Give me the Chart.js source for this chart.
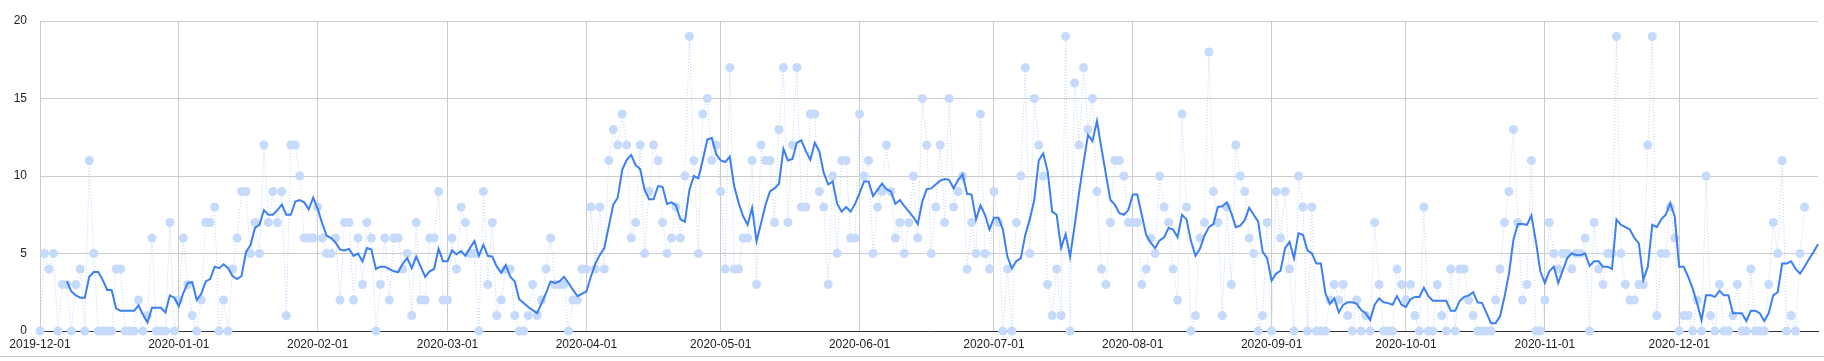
<!DOCTYPE html>
<html>
<head>
<meta charset="utf-8">
<script src="https://cdn.jsdelivr.net/npm/chart.js@4/dist/chart.umd.min.js"></script>
<style>
  html, body { margin: 0; padding: 0; background: #fff; }
  #wrap { position: relative; width: 1824px; height: 361px; overflow: hidden; }
  #rule { position: absolute; left: 0; top: 356px; width: 1824px; height: 1px; background: #c8c8c8; }
</style>
</head>
<body>
<div id="wrap">
  <canvas id="c" width="1824" height="361"></canvas>
  <div id="rule"></div>
</div>
<script>
// ---- data ----
const startDate = '2019-12-01';
const dayCount = 398; // 2019-12-01 .. 2021-01-01
const tickLabels = ['2019-12-01','2020-01-01','2020-02-01','2020-03-01','2020-04-01','2020-05-01',
  '2020-06-01','2020-07-01','2020-08-01','2020-09-01','2020-10-01','2020-11-01','2020-12-01'];
const yTicks = [0, 5, 10, 15, 20];

const dailyCounts = [
  0,5,4,5,0,3,3,0,3,4,
  0,11,5,0,0,0,0,4,4,0,
  0,0,2,0,1,6,0,0,0,7,
  0,2,6,3,1,0,2,7,7,8,
  0,2,0,4,6,9,9,5,7,5,
  12,7,9,7,9,1,12,12,10,6,
  6,6,8,6,5,5,6,2,7,7,
  2,6,3,7,6,0,3,6,2,6,
  6,4,5,1,7,2,2,6,6,9,
  2,2,6,4,8,7,5,5,0,9,
  3,7,1,2,4,4,1,0,0,1,
  3,1,2,4,6,3,3,3,0,2,
  2,4,4,8,4,8,4,11,13,12,
  14,12,6,7,12,5,9,12,11,7,
  5,6,8,6,10,19,11,5,14,15,
  11,12,9,4,17,4,4,6,6,11,
  3,12,11,11,7,13,17,7,12,17,
  8,8,14,14,9,8,3,10,5,11,
  11,6,6,14,10,11,5,8,9,12,
  9,6,7,5,7,10,6,15,12,5,
  8,12,7,15,8,9,10,4,7,5,
  14,5,4,9,7,0,4,0,7,10,
  17,5,15,12,10,3,1,4,1,19,
  0,16,12,17,13,15,9,4,3,7,
  11,11,10,7,7,7,3,4,6,5,
  10,8,7,4,2,14,8,0,1,6,
  7,18,9,7,1,8,3,12,10,9,
  6,5,0,1,7,0,9,6,9,4,
  0,10,8,0,8,0,0,0,2,3,
  2,3,1,0,2,0,1,0,7,3,
  0,0,0,4,3,2,3,1,0,8,
  0,0,3,1,0,4,0,4,4,2,
  1,0,0,0,0,2,4,7,9,13,
  7,2,3,11,0,0,2,7,5,4,
  5,5,4,5,5,6,0,7,4,3,
  5,5,19,5,3,2,2,3,3,12,
  19,1,5,5,8,6,0,1,1,0,
  2,0,10,1,0,3,0,0,1,3,
  0,0,4,0,0,0,3,7,5,11,
  0,1,0,5,8,null,null,null
];

const movingAvg = [
  null,null,null,null,null,null,3.2,2.55,2.3,2.15,
  2.15,3.5,3.8,3.8,3.3,2.65,2.65,1.45,1.3,1.3,
  1.3,1.3,1.65,1.05,0.55,1.5,1.5,1.5,1.2,2.3,
  2.15,1.6,2.45,3.1,3.15,2.0,2.4,3.2,3.35,4.15,
  4.05,4.3,4.05,3.55,3.35,3.55,5.1,5.55,6.65,6.85,
  7.8,7.5,7.5,7.8,8.15,7.5,7.5,8.35,8.45,8.3,
  7.85,8.6,7.9,6.95,6.15,6.0,5.7,5.25,5.2,5.3,
  4.85,5.0,4.5,5.35,5.25,4.0,4.15,4.15,4.0,3.85,
  3.8,4.35,4.7,4.05,4.8,4.15,3.5,3.85,4.0,5.3,
  4.5,4.5,5.2,4.95,5.15,4.85,5.35,5.8,4.85,5.55,
  4.85,4.8,4.15,3.75,4.25,3.5,3.2,2.05,1.8,1.55,
  1.35,1.15,1.8,2.45,3.2,3.1,3.2,3.5,3.1,2.65,
  2.25,2.4,2.55,3.5,4.35,4.9,5.35,6.75,8.15,8.6,
  10.4,11.05,11.35,10.7,10.45,9.1,8.5,8.5,9.35,9.3,
  8.2,8.3,8.1,7.2,7.05,9.1,10.0,9.85,11.05,12.35,
  12.45,11.4,11.0,10.9,11.25,9.35,8.25,7.4,6.85,7.95,
  5.8,6.95,8.15,9.0,9.2,9.5,11.75,11.0,11.1,12.15,
  12.3,11.6,11.05,12.15,11.6,10.2,9.45,9.65,8.2,7.7,
  8.0,7.7,8.2,8.9,9.65,9.65,8.7,9.1,9.5,9.15,
  9.0,8.2,8.45,8.05,7.7,7.35,6.9,8.35,9.15,9.2,
  9.45,9.7,9.8,9.75,9.2,9.75,10.1,8.85,8.8,7.2,
  8.1,7.5,6.55,7.3,7.3,6.55,4.8,4.05,4.5,4.7,
  6.2,7.2,8.45,11.0,11.45,10.3,7.7,7.5,5.35,6.25,
  4.8,6.75,8.9,10.85,12.65,12.25,13.55,11.8,10.1,8.45,
  8.15,7.6,7.5,7.8,8.8,8.8,7.5,6.2,5.7,5.35,
  5.85,6.05,6.65,6.55,6.05,7.5,7.2,5.8,4.85,5.3,
  6.15,6.7,6.9,8.0,8.05,8.3,7.6,6.7,6.8,7.15,
  7.95,7.5,7.05,5.1,4.7,3.25,3.7,3.9,5.35,5.75,
  4.7,6.3,6.2,5.2,5.0,4.35,4.35,2.45,1.75,2.1,
  1.2,1.7,1.85,1.85,1.75,1.35,1.15,0.7,1.7,2.1,
  1.85,1.8,1.7,2.25,1.7,1.55,2.05,2.2,2.2,2.8,
  2.25,1.95,1.95,1.95,1.95,1.3,1.3,1.95,2.2,2.3,
  2.5,1.85,1.8,1.15,0.5,0.5,0.95,2.2,3.7,5.9,
  6.9,6.9,6.85,7.45,5.8,3.85,3.1,3.85,4.15,3.1,
  3.9,4.7,5.0,4.9,4.9,5.0,4.2,4.5,4.5,4.15,
  4.15,4.0,7.2,6.85,6.7,6.55,6.0,5.65,3.3,4.15,
  6.85,6.7,7.2,7.5,8.25,7.4,4.15,4.15,3.5,2.75,
  1.8,0.7,2.3,2.3,2.2,2.6,2.3,2.3,1.15,1.15,
  1.15,0.65,1.3,1.3,1.15,0.65,1.15,2.3,2.5,4.35,
  4.35,4.5,4.0,3.7,4.15,4.65,5.1,5.6
];

// daily category labels
const categories = [];
{
  const d0 = new Date(startDate + 'T00:00:00Z');
  for (let i = 0; i < dayCount; i++) {
    const d = new Date(d0.getTime() + i * 86400000);
    categories.push(d.toISOString().slice(0, 10));
  }
}
const tickSet = new Set(tickLabels);

const FONT = "'Liberation Sans', Arial, sans-serif";
Chart.defaults.font.family = FONT;

new Chart(document.getElementById('c'), {
  type: 'line',
  data: {
    labels: categories,
    datasets: [
      {
        label: 'avg',
        data: movingAvg,
        borderColor: '#3c7ff0',
        borderWidth: 2,
        pointRadius: 0,
        fill: false,
        tension: 0,
        spanGaps: false,
        order: 0,
        clip: false
      },
      {
        label: 'count',
        data: dailyCounts,
        borderColor: '#bcd3fb',
        borderWidth: 1,
        borderDash: [1, 2],
        pointRadius: 4.5,
        pointBackgroundColor: '#c6dafc',
        pointBorderWidth: 0,
        pointBorderColor: '#c6dafc',
        fill: false,
        tension: 0,
        order: 1,
        clip: false
      }
    ]
  },
  options: {
    responsive: false,
    animation: false,
    devicePixelRatio: 1,
    layout: { padding: { top: 21, right: 0, left: 0, bottom: 0 } },
    plugins: { legend: { display: false }, tooltip: { enabled: false } },
    events: [],
    scales: {
      x: {
        type: 'category',
        offset: false,
        afterFit: s => { s.height = 30; },
        border: { display: true, color: '#333', width: 1 },
        grid: {
          drawTicks: false,
          color: ctx => (ctx.tick && tickSet.has(categories[ctx.index])) ? '#cccccc' : 'rgba(0,0,0,0)',
          lineWidth: 1
        },
        ticks: {
          autoSkip: false,
          maxRotation: 0,
          minRotation: 0,
          padding: 6,
          color: '#222',
          font: { size: 12, family: FONT },
          callback: (v, i) => tickSet.has(categories[i]) ? categories[i] : ''
        }
      },
      y: {
        min: 0,
        max: 20,
        afterFit: s => { s.width = 40; },
        afterBuildTicks: s => { s.ticks = yTicks.map(v => ({ value: v })); },
        border: { display: false },
        grid: { drawTicks: false, color: '#cccccc', lineWidth: 1 },
        ticks: {
          padding: 13,
          color: '#222',
          font: { size: 12, family: FONT }
        }
      }
    }
  }
});
</script>
</body>
</html>
